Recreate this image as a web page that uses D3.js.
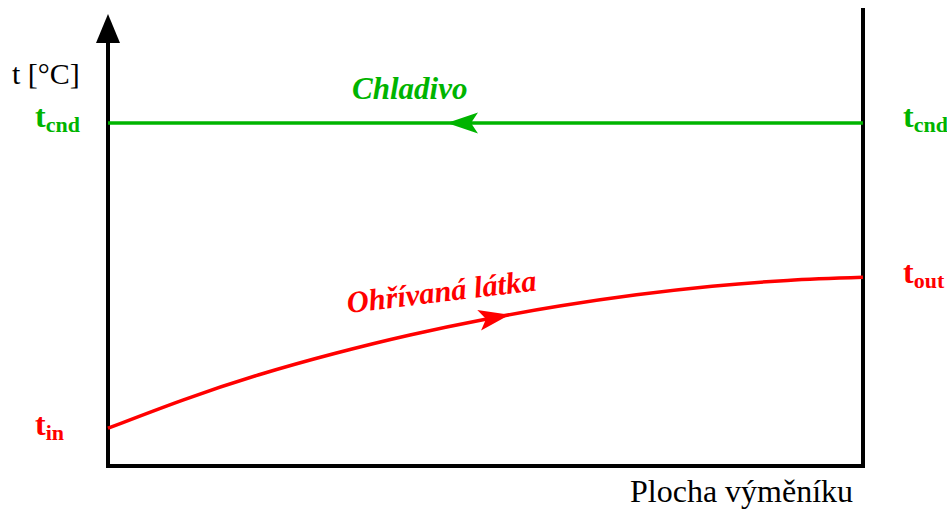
<!DOCTYPE html>
<html>
<head>
	<meta charset="utf-8">
	<title></title>
	<style>
		body { margin: 0; background: #fff; }
		.line { fill: none; stroke-width: 3.5; }
	</style>
</head>
<body>
	<svg id="container" width="947" height="509"></svg>
</body>
<script src="https://d3js.org/d3.v7.min.js"></script>
<script>
	// exchanger area, 0 = inlet of heated medium, 1 = outlet
	const areaPos = [0, 0.1, 0.2, 0.3, 0.4, 0.5, 0.6, 0.7, 0.8, 0.9, 1]
	// heated medium temperature (relative, t_cnd = 100)
	const heatedTemp = [11, 19.3, 26.6, 32.8, 38.2, 42.8, 46.7, 49.9, 52.4, 54.1, 55]
	// condensing coolant, constant temperature
	const coolantPos = [0, 1]
	const coolantTemp = [100, 100]
	// arrow positions along the area axis
	const coolantArrowAt = 0.449
	const heatedArrowAt = 0.532

	const green = "#00b400"
	const red = "#ff0000"
	const serif = '"Liberation Serif", "Times New Roman", serif'

	let svg = d3.select("#container")

	let x = d3.scaleLinear().domain([0, 1]).range([108, 863])
	let y = d3.scaleLinear().domain([0, 100]).range([466, 123])

	// frame: y axis with arrow, bottom axis, right border
	svg.append("path")
		.attr("d", `M${x(0)},${y(0)} L${x(0)},40 M${x(0)},${y(0)} L${x(1)},${y(0)} L${x(1)},10`)
		.attr("fill", "none")
		.attr("stroke", "#000")
		.attr("stroke-width", 4)
		.attr("stroke-linecap", "square")
	svg.append("path")
		.attr("d", `M${x(0)},14 L${x(0) + 12},43 L${x(0) - 12},43 Z`)
		.attr("fill", "#000")

	let line = d3.line()
		.x(d => x(d[0]))
		.y(d => y(d[1]))

	// coolant
	svg.append("path")
		.attr("class", "line")
		.attr("stroke", green)
		.attr("d", line.curve(d3.curveLinear)(d3.zip(coolantPos, coolantTemp)))

	// heated medium
	let heated = svg.append("path")
		.attr("class", "line")
		.attr("stroke", red)
		.attr("d", line.curve(d3.curveNatural)(d3.zip(areaPos, heatedTemp)))

	// arrow head, tip at origin pointing to +x
	const arrowShape = "M0,0 L-31,-10.5 L-24,0 L-31,10.5 Z"

	function pointAtX(node, px) {
		let total = node.getTotalLength()
		let lo = 0, hi = total
		for (let i = 0; i < 40; i++) {
			let mid = (lo + hi) / 2
			if (node.getPointAtLength(mid).x < px) lo = mid
			else hi = mid
		}
		return lo
	}

	// coolant arrow points left
	svg.append("path")
		.attr("d", arrowShape)
		.attr("fill", green)
		.attr("transform", `translate(${x(coolantArrowAt)},${y(coolantTemp[0])}) rotate(180)`)

	// heated arrow follows the curve
	let hn = heated.node()
	let len = pointAtX(hn, x(heatedArrowAt))
	let p = hn.getPointAtLength(len)
	let p0 = hn.getPointAtLength(len - 5)
	let ang = Math.atan2(p.y - p0.y, p.x - p0.x) * 180 / Math.PI
	svg.append("path")
		.attr("d", arrowShape)
		.attr("fill", red)
		.attr("transform", `translate(${p.x},${p.y}) rotate(${ang})`)

	// axis titles
	svg.append("text")
		.style("font-family", serif)
		.attr("x", 12).attr("y", 84)
		.attr("font-size", 30)
		.text("t [°C]")
	svg.append("text")
		.style("font-family", serif)
		.attr("x", 630).attr("y", 502)
		.attr("font-size", 32)
		.text("Plocha výměníku")

	// temperature labels
	function tempLabel(px, py, sub, color) {
		let t = svg.append("text")
			.style("font-family", serif)
			.attr("x", px).attr("y", py)
			.attr("fill", color)
			.attr("font-weight", "bold")
			.attr("font-size", 32)
		t.append("tspan").text("t")
		t.append("tspan").attr("dy", 5).attr("font-size", 22).text(sub)
	}
	tempLabel(35, y(coolantTemp[0]) + 4, "cnd", green)
	tempLabel(903, y(coolantTemp[1]) + 4, "cnd", green)
	tempLabel(35, y(heatedTemp[0]) + 7, "in", red)
	tempLabel(903, y(heatedTemp[heatedTemp.length - 1]) + 6, "out", red)

	// series names
	svg.append("text")
		.style("font-family", serif)
		.attr("x", 352).attr("y", 99)
		.attr("fill", green)
		.attr("font-weight", "bold")
		.attr("font-style", "italic")
		.attr("font-size", 31)
		.text("Chladivo")
	svg.append("text")
		.style("font-family", serif)
		.attr("transform", "translate(348,313) rotate(-6.8)")
		.attr("fill", red)
		.attr("font-weight", "bold")
		.attr("font-style", "italic")
		.attr("font-size", 30.5)
		.text("Ohřívaná látka")
</script>
</html>
